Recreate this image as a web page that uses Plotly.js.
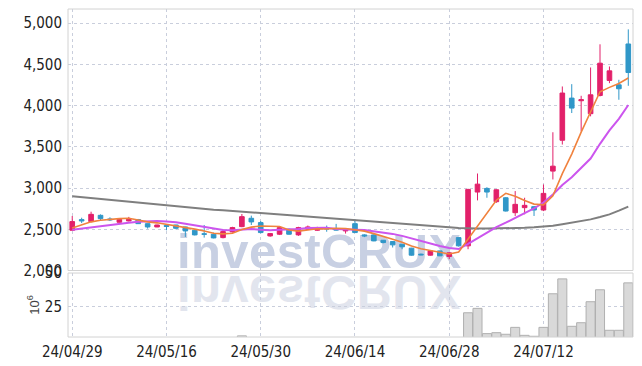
<!DOCTYPE html>
<html>
<head>
<meta charset="utf-8">
<script src="https://cdn.plot.ly/plotly-3.0.1.min.js"></script>
<style>
  html, body { margin: 0; padding: 0; background: #ffffff; }
  #wrap { position: relative; width: 642px; height: 366px; overflow: hidden; }
  #chart { position: absolute; left: 0; top: 0; width: 642px; height: 366px; }
  .wm { position: absolute; left: 177px; font-family: "Liberation Sans", Arial, sans-serif; font-weight: bold;
        font-size: 49px; line-height: 49px; height: 49px; white-space: nowrap; letter-spacing: 0.4px; }
  #wm1 { top: 227px; color: #c8d0e3; }
  #wm2 { top: 268px; color: #e2e5ee; transform: scaleY(-1); }
</style>
</head>
<body>
<div id="wrap">
  <div class="wm" id="wm1">investCRUX</div>
  <div class="wm" id="wm2">investCRUX</div>
  <div id="chart"></div>
</div>
<script>
const dates = ['24/04/29','24/04/30','24/05/02','24/05/03','24/05/07','24/05/08','24/05/09','24/05/10','24/05/13','24/05/14',
  '24/05/16','24/05/17','24/05/20','24/05/21','24/05/22','24/05/23','24/05/24','24/05/27','24/05/28','24/05/29',
  '24/05/30','24/05/31','24/06/03','24/06/04','24/06/05','24/06/07','24/06/10','24/06/11','24/06/12','24/06/13',
  '24/06/14','24/06/17','24/06/18','24/06/19','24/06/20','24/06/21','24/06/24','24/06/25','24/06/26','24/06/27',
  '24/06/28','24/07/01','24/07/02','24/07/03','24/07/04','24/07/05','24/07/08','24/07/09','24/07/10','24/07/11',
  '24/07/12','24/07/15','24/07/16','24/07/17','24/07/18','24/07/19','24/07/22','24/07/23','24/07/24','24/07/25'];

const openP = [2488,2617,2593,2669,2625,2585,2601,2617,2568,2528,
  2545,2552,2528,2488,2445,2440,2399,2468,2532,2633,
  2581,2419,2440,2500,2432,2500,2488,2515,2505,2480,
  2568,2432,2432,2367,2351,2319,2271,2198,2186,2238,
  2170,2399,2299,2951,2995,2834,2882,2701,2762,2774,
  2733,3205,3579,4090,4058,3901,4122,4304,4251,4746];
const highP = [2661,2640,2713,2680,2645,2625,2650,2625,2570,2555,
  2560,2555,2530,2500,2552,2460,2500,2530,2685,2665,
  2600,2455,2535,2510,2530,2545,2530,2545,2565,2510,
  2621,2440,2440,2370,2355,2320,2275,2205,2240,2240,
  2220,2400,2990,3176,3010,2985,2890,2963,2882,2780,
  3043,3676,4231,4259,4118,4461,4742,4473,4312,4923];
const lowP = [2488,2575,2585,2601,2600,2580,2595,2565,2508,2525,
  2488,2500,2407,2425,2399,2390,2390,2460,2525,2552,
  2450,2410,2430,2435,2420,2495,2480,2470,2485,2448,
  2455,2405,2355,2330,2279,2258,2180,2185,2180,2175,
  2138,2290,2258,2850,2882,2820,2715,2661,2681,2661,
  2720,3104,3527,3909,3688,3869,4110,4271,4070,4239];
const closeP = [2593,2601,2681,2629,2615,2620,2620,2568,2528,2552,
  2535,2512,2480,2432,2440,2395,2472,2520,2653,2589,
  2460,2448,2520,2440,2520,2528,2520,2505,2490,2508,
  2460,2420,2359,2339,2311,2287,2186,2190,2238,2178,
  2214,2299,2983,3047,2951,2979,2721,2802,2790,2733,
  2935,3265,4151,3969,4070,4130,4513,4420,4203,4400];

const ma5 = [2515,2550,2590,2610,2624,2629,2633,2610,2590,2578,
  2561,2539,2521,2502,2480,2452,2444,2452,2496,2526,
  2539,2534,2534,2491,2478,2491,2506,2503,2513,2510,
  2497,2477,2447,2417,2378,2343,2296,2263,2242,2216,
  2201,2224,2382,2544,2699,2852,2936,2900,2849,2805,
  2796,2905,3175,3411,3678,3917,4167,4220,4267,4333];
const ma10 = [2495,2510,2525,2540,2552,2565,2578,2590,2598,2601,
  2595,2586,2566,2546,2529,2506,2491,2487,2499,2503,
  2495,2489,2493,2494,2502,2515,2520,2518,2502,2494,
  2494,2491,2475,2465,2444,2420,2387,2355,2330,2297,
  2272,2260,2323,2393,2457,2527,2580,2641,2696,2752,
  2824,2921,3037,3130,3242,3357,3536,3698,3839,4006];
const ma60 = [2900,2889,2878,2866,2855,2843,2831,2820,2808,2796,
  2785,2773,2762,2754,2746,2738,2730,2721,2713,2705,
  2697,2688,2680,2671,2662,2653,2645,2636,2627,2618,
  2610,2601,2592,2584,2575,2566,2557,2548,2540,2532,
  2524,2516,2510,2508,2508,2509,2511,2514,2518,2524,
  2532,2542,2560,2578,2598,2620,2648,2680,2725,2775];

// volume in millions of shares
const volume = [1.1,0.8,1.3,0.9,0.7,0.6,0.7,0.8,0.9,0.6,
  0.7,0.8,1.0,0.9,1.2,0.8,1.1,1.0,2.8,1.4,
  1.3,0.9,1.0,0.8,1.0,0.7,0.8,0.9,0.8,0.7,
  1.6,1.0,1.1,0.9,1.0,1.1,1.4,0.8,0.9,1.0,
  1.2,1.5,20.2,23.5,4.5,5.2,4.0,9.2,3.2,2.5,
  9.2,34.5,45.7,10.0,12.7,28.5,37.5,7.0,7.0,42.7];

const tickDates = ['24/04/29','24/05/16','24/05/30','24/06/14','24/06/28','24/07/12'];
const priceTicks = [2000,2500,3000,3500,4000,4500,5000];
const volTicks = [25,50];

const tickFont = {family: '"Liberation Sans Narrow", "DejaVu Sans Condensed", sans-serif', size: 15, color: '#222222'};
const gridCol = '#c9cedc';

const traces = [
  {
    type: 'candlestick', x: dates, open: openP, high: highP, low: lowP, close: closeP,
    xaxis: 'x', yaxis: 'y',
    increasing: {line: {color: '#e2206a', width: 1}, fillcolor: '#e2206a'},
    decreasing: {line: {color: '#3097c8', width: 1}, fillcolor: '#3097c8'},
    whiskerwidth: 0, hoverinfo: 'skip', showlegend: false
  },
  {type: 'scatter', mode: 'lines', x: dates, y: ma60, xaxis: 'x', yaxis: 'y',
   line: {color: '#7f7f7f', width: 2}, hoverinfo: 'skip', showlegend: false},
  {type: 'scatter', mode: 'lines', x: dates, y: ma10, xaxis: 'x', yaxis: 'y',
   line: {color: '#cc55ee', width: 2}, hoverinfo: 'skip', showlegend: false},
  {type: 'scatter', mode: 'lines', x: dates, y: ma5, xaxis: 'x', yaxis: 'y',
   line: {color: '#f0823e', width: 1.6}, hoverinfo: 'skip', showlegend: false},
  {type: 'bar', x: dates, y: volume, xaxis: 'x', yaxis: 'y2',
   marker: {color: '#d9d9d9', line: {color: '#b0b0b0', width: 1}},
   hoverinfo: 'skip', showlegend: false}
];

const layout = {
  width: 642, height: 366,
  margin: {l: 68, r: 9, t: 9, b: 29, pad: 0},
  paper_bgcolor: 'rgba(0,0,0,0)', plot_bgcolor: 'rgba(0,0,0,0)',
  showlegend: false, bargap: 0.04,
  xaxis: {
    type: 'category', categoryorder: 'array', categoryarray: dates,
    range: [-0.45, 59.5], rangeslider: {visible: false},
    tickmode: 'array', tickvals: tickDates, ticktext: tickDates,
    tickfont: tickFont, ticks: '', ticklabelstandoff: 4,
    showgrid: true, gridcolor: gridCol, griddash: 'dot', gridwidth: 1,
    showline: false, zeroline: false, anchor: 'y2'
  },
  yaxis: {
    domain: [0.2027, 1], range: [2000, 5170],
    tickmode: 'array', tickvals: priceTicks, tickformat: ',d',
    tickfont: tickFont, ticks: '', ticklabelstandoff: 5,
    showgrid: true, gridcolor: gridCol, griddash: 'dot', gridwidth: 1,
    zeroline: false, showline: false
  },
  yaxis2: {
    domain: [0, 0.195], range: [1.95, 50.1],
    tickmode: 'array', tickvals: volTicks,
    tickfont: tickFont, ticks: '', ticklabelstandoff: 5,
    showgrid: true, gridcolor: gridCol, griddash: 'dot', gridwidth: 1,
    zeroline: false, showline: false,
    title: {text: '10<sup>6</sup>', font: {family: '"Liberation Sans", sans-serif', size: 13, color: '#444444'}, standoff: 2}
  },
  shapes: [
    {type: 'rect', xref: 'paper', yref: 'paper', x0: 0, x1: 1, y0: 0.2027, y1: 1,
     line: {color: '#d2d2d2', width: 1}, fillcolor: 'rgba(0,0,0,0)'},
    {type: 'rect', xref: 'paper', yref: 'paper', x0: 0, x1: 1, y0: 0, y1: 0.195,
     line: {color: '#d2d2d2', width: 1}, fillcolor: 'rgba(0,0,0,0)'}
  ]
};

Plotly.newPlot('chart', traces, layout, {staticPlot: true, displayModeBar: false});
</script>
</body>
</html>
